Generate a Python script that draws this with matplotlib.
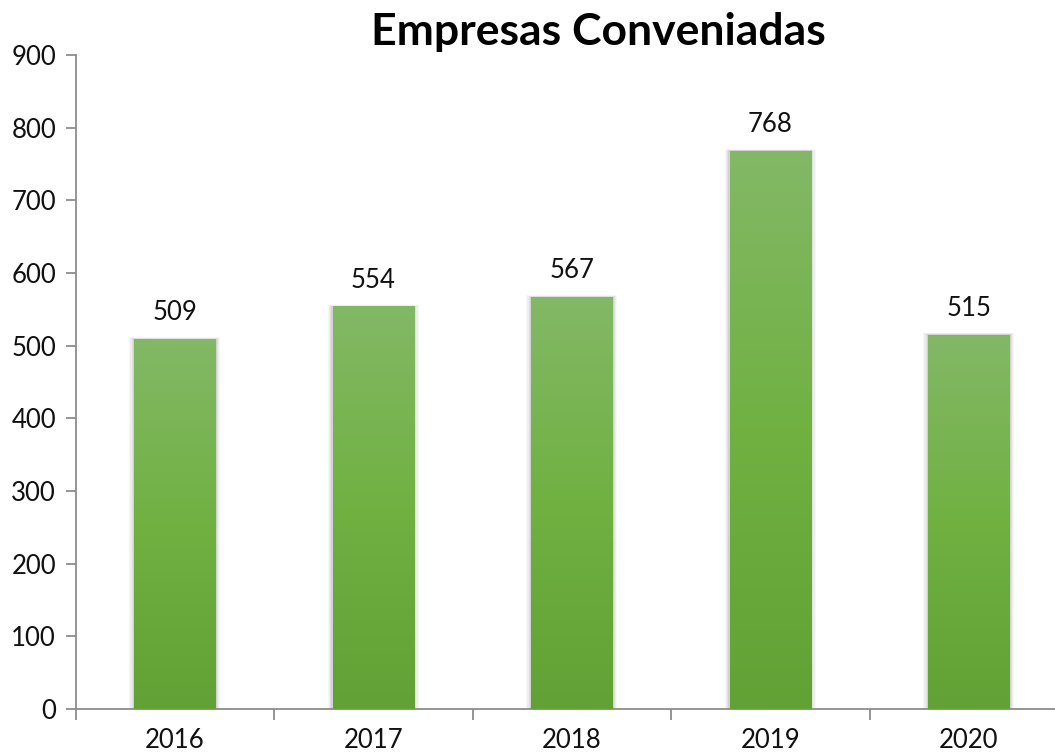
import matplotlib
matplotlib.use("Agg")
import matplotlib.pyplot as plt
import numpy as np
from matplotlib.colors import LinearSegmentedColormap

years = ["2016", "2017", "2018", "2019", "2020"]
values = [509, 554, 567, 768, 515]
title = "Empresas Conveniadas"

plt.rcParams['font.family'] = ['Lato', 'DejaVu Sans']

fig = plt.figure(figsize=(10.55, 7.53), dpi=100)
ax = fig.add_axes([75.5/1055, 44/753, (1068-75.5)/1055, (709-55)/753])

x = np.arange(len(years))
width = 0.41
bars = ax.bar(x, values, width=width, color='none', edgecolor='none', zorder=3)

cmap = LinearSegmentedColormap.from_list("g", ["#62a135", "#70b142", "#83b866"])
grad = np.linspace(0, 1, 256).reshape(-1, 1)
for b in bars:
    x0, y0, w, h = b.get_x(), b.get_y(), b.get_width(), b.get_height()
    # soft side shadow
    for i, a in enumerate([0.03, 0.04, 0.05, 0.06]):
        d = 0.006 * (4 - i)
        ax.add_patch(plt.Rectangle((x0 - d, y0), w + 2*d, h + (4 - i) * 0.6,
                                   facecolor='black', alpha=a, edgecolor='none', zorder=2))
    im = ax.imshow(grad, extent=[x0, x0 + w, y0, y0 + h], origin='lower',
                   cmap=cmap, aspect='auto', zorder=3)
    im.set_clip_path(b)
    ax.text(x0 + w/2, h + 19, str(int(h)), ha='center', va='bottom',
            fontsize=18.5, color='#111111', zorder=4)

ax.set_xlim(-0.5, 4.5)
ax.set_ylim(0, 900)
ax.set_yticks(range(0, 901, 100))
ax.set_xticks(x)
ax.set_xticklabels(years)
ax.set_xticks(np.arange(-0.5, 5, 1), minor=True)
ax.tick_params(axis='x', which='major', length=0, pad=17, labelsize=18.5, colors='#111111')
ax.tick_params(axis='x', which='minor', length=8, width=1.3, color='#8c8c8c')
ax.tick_params(axis='y', length=7, width=1.3, color='#8c8c8c', pad=7, labelsize=18.5, labelcolor='#111111')
for lbl in ax.get_xticklabels():
    lbl.set_va('top')
ax.xaxis.set_tick_params(pad=14)
for s in ['top', 'right']:
    ax.spines[s].set_visible(False)
for s in ['left', 'bottom']:
    ax.spines[s].set_color('#8c8c8c')
    ax.spines[s].set_linewidth(1.3)
ax.set_facecolor('none')

fig.text(0.567, 0.958, title, ha='center', va='center', fontsize=32, fontweight='bold', color='black')

fig.savefig("out.png", dpi=100)
